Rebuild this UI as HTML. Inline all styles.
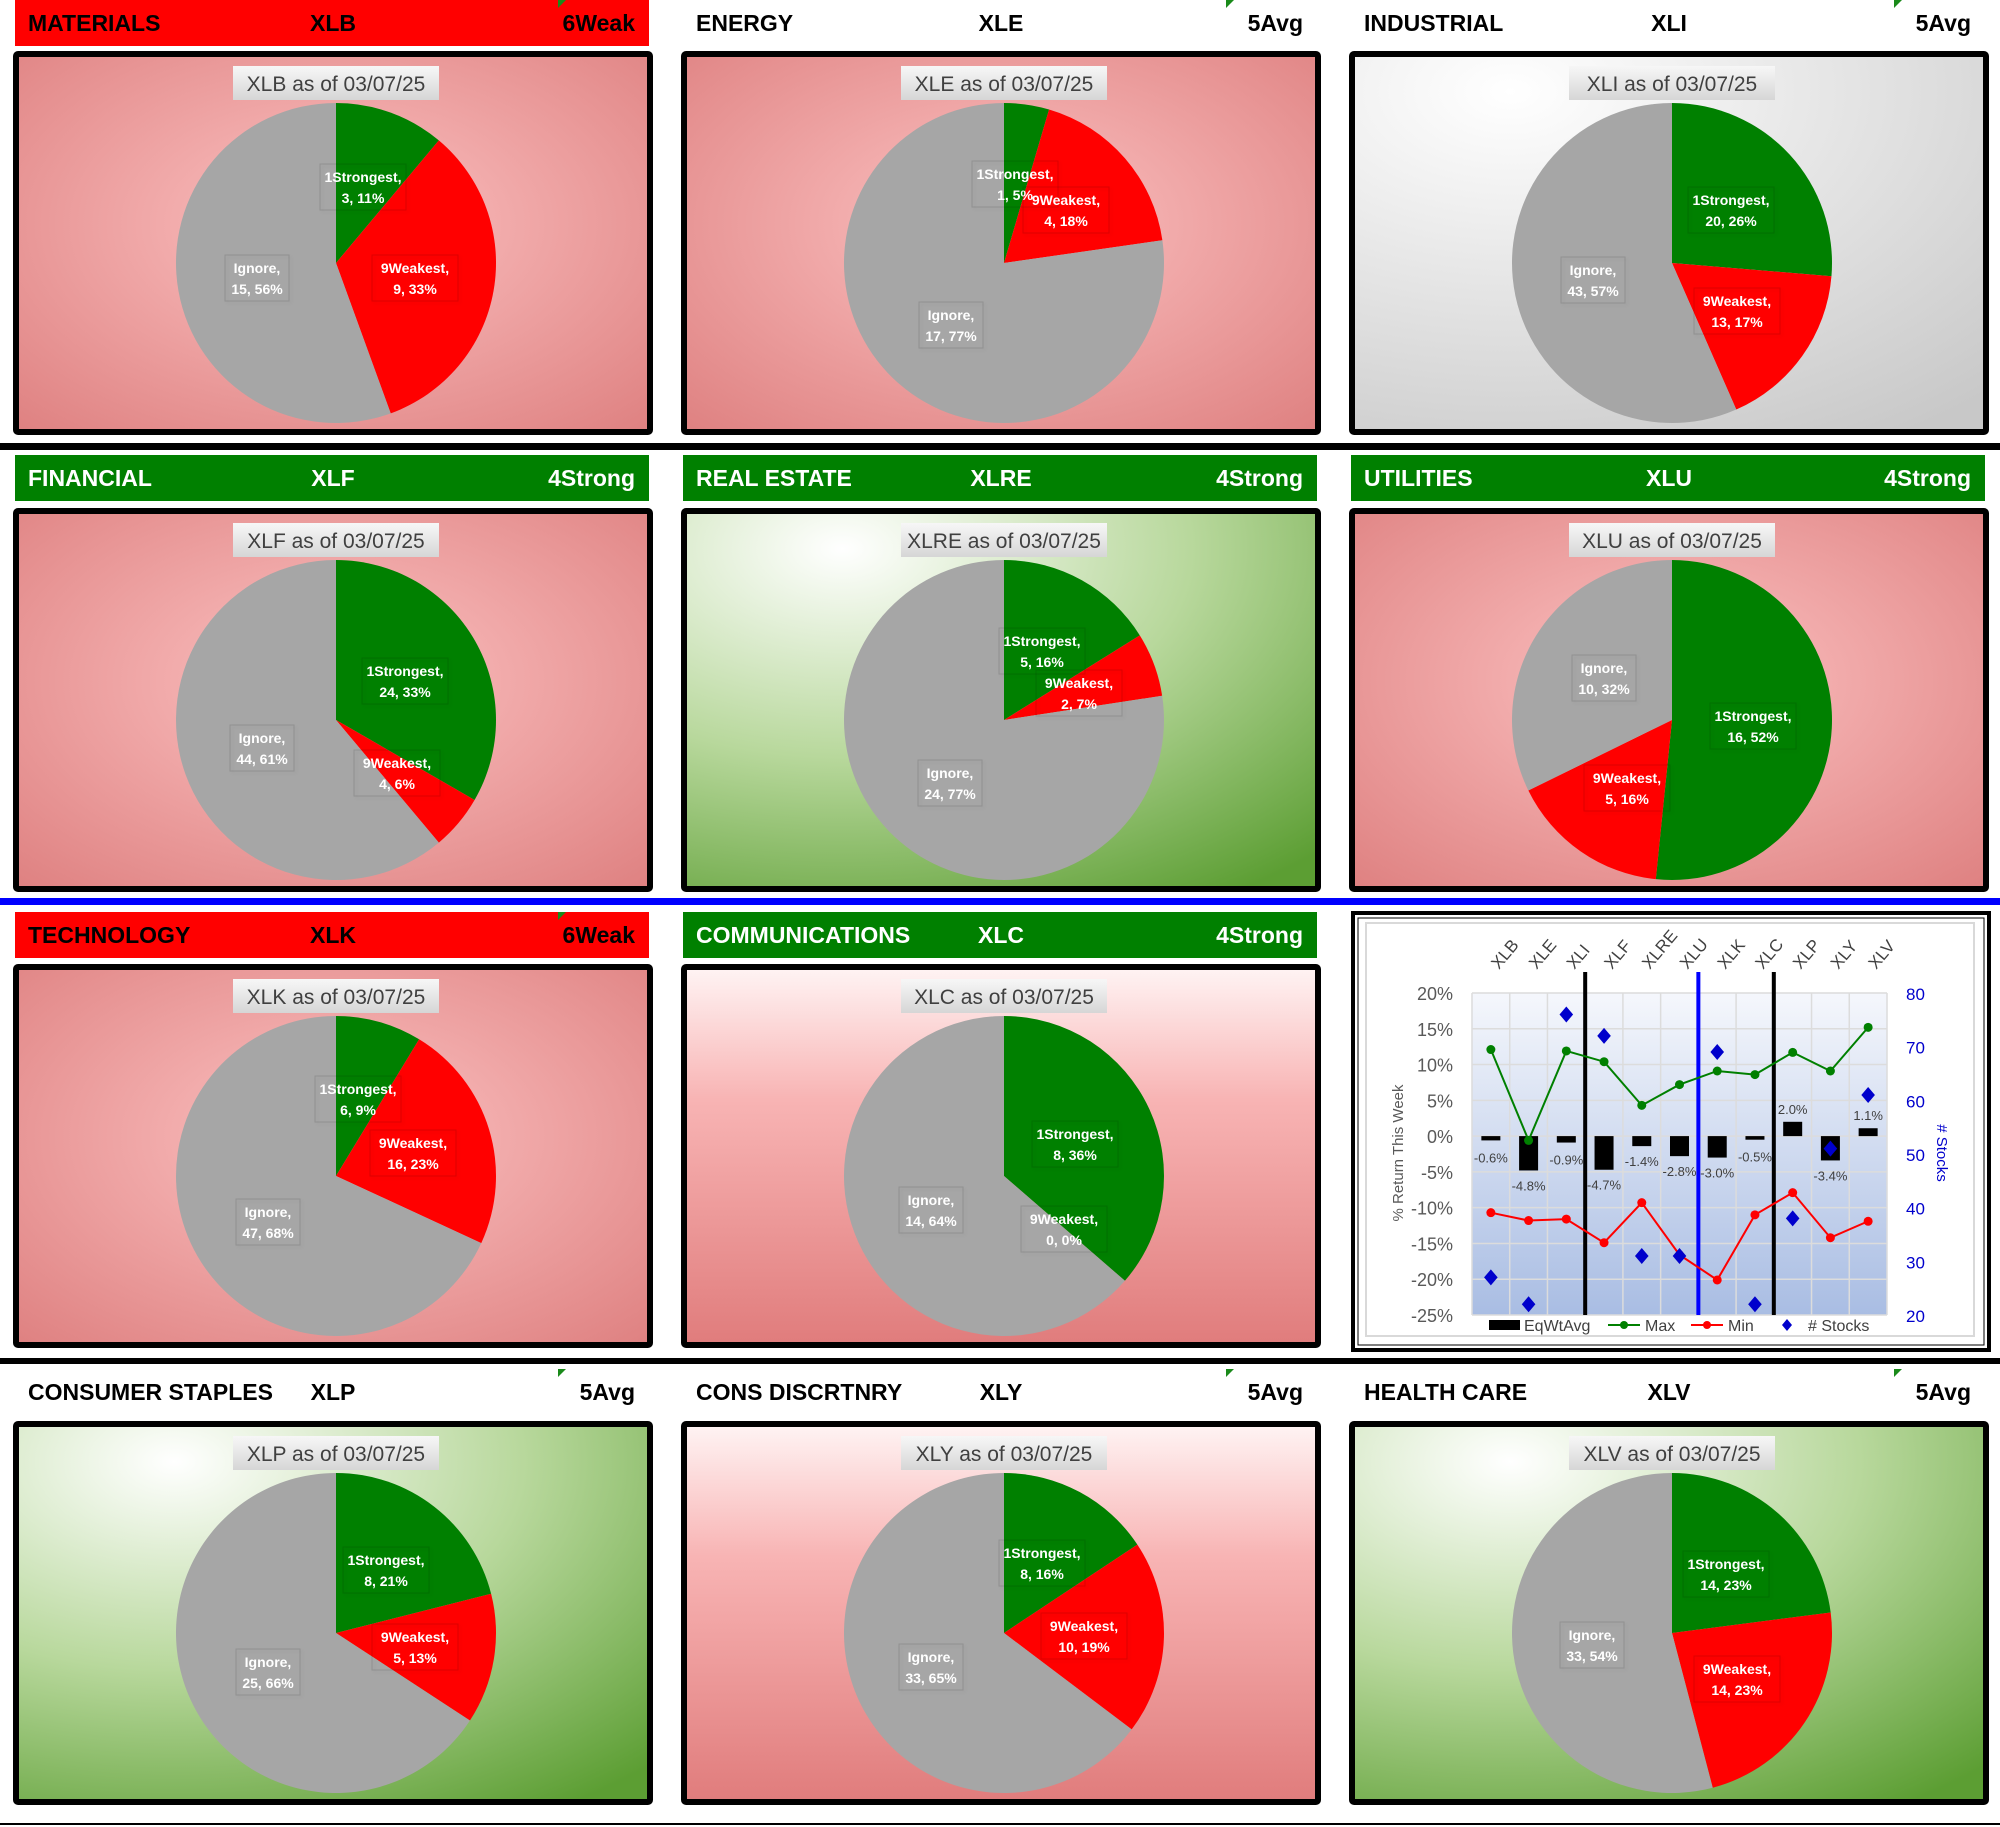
<!DOCTYPE html>
<html><head><meta charset="utf-8">
<style>
html,body{margin:0;padding:0;background:#fff;}
svg{display:block;font-family:"Liberation Sans",sans-serif;}
</style></head>
<body>
<svg id="root" xmlns="http://www.w3.org/2000/svg" width="2000" height="1827" viewBox="0 0 2000 1827">
<defs>
<radialGradient id="gRed" cx="50%" cy="45%" r="75%"><stop offset="0" stop-color="#fcc2c2"/><stop offset="1" stop-color="#de8080"/></radialGradient>
<radialGradient id="gGreen" cx="25%" cy="10%" r="110%"><stop offset="0" stop-color="#ffffff"/><stop offset="0.5" stop-color="#b8d89c"/><stop offset="1" stop-color="#5c9e33"/></radialGradient>
<radialGradient id="gGray" cx="25%" cy="10%" r="110%"><stop offset="0" stop-color="#ffffff"/><stop offset="1" stop-color="#c8c8c8"/></radialGradient>
<linearGradient id="gRedV" x1="0" y1="0" x2="0" y2="1"><stop offset="0" stop-color="#fff4f4"/><stop offset="0.35" stop-color="#f8b4b4"/><stop offset="1" stop-color="#e07c7c"/></linearGradient>
<linearGradient id="gTitle" x1="0" y1="0" x2="0" y2="1"><stop offset="0" stop-color="#f7f7f7"/><stop offset="1" stop-color="#d6d6d6"/></linearGradient>
<linearGradient id="gPlot" x1="0" y1="0" x2="0" y2="1"><stop offset="0" stop-color="#f5f7fc"/><stop offset="1" stop-color="#a9bde3"/></linearGradient>
<filter id="sh" x="-20%" y="-20%" width="140%" height="140%"><feDropShadow dx="2" dy="2" stdDeviation="1.5" flood-color="#000" flood-opacity="0.45"/></filter>
</defs>
<g id="panels"></g>
<g id="combo"></g>
</svg>
<script>
// ---------- Pie panel data ----------
const sectorNames = ["MATERIALS","ENERGY","INDUSTRIAL","FINANCIAL","REAL ESTATE","UTILITIES","TECHNOLOGY","COMMUNICATIONS","CONSUMER STAPLES","CONS DISCRTNRY","HEALTH CARE"];
const tickers = ["XLB","XLE","XLI","XLF","XLRE","XLU","XLK","XLC","XLP","XLY","XLV"];
const statuses = ["6Weak","5Avg","5Avg","4Strong","4Strong","4Strong","6Weak","4Strong","5Avg","5Avg","5Avg"];
const strongestCounts = [3,1,20,24,5,16,6,8,8,8,14];
const weakestCounts = [9,4,13,4,2,5,16,0,5,10,14];
const ignoreCounts = [15,17,43,44,24,10,47,14,25,33,33];
const strongestPct = ["11%","5%","26%","33%","16%","52%","9%","36%","21%","16%","23%"];
const weakestPct = ["33%","18%","17%","6%","7%","16%","23%","0%","13%","19%","23%"];
const ignorePct = ["56%","77%","57%","61%","77%","32%","68%","64%","66%","65%","54%"];
const asOfDate = "03/07/25";

const NS="http://www.w3.org/2000/svg";
function mk(tag,attrs,parent){const e=document.createElementNS(NS,tag);for(const k in attrs)e.setAttribute(k,attrs[k]);if(parent)parent.appendChild(e);return e;}

const root=document.getElementById('panels');
const colX=[13,681,1349], rowY=[51,508,964,1421], hdrY=[0,455,912,1369];
const PW=640, PH=384;
const bgs=["gRed","gRed","gGray","gRed","gGreen","gRed","gRed","gRedV","gGreen","gRedV","gGreen"];
// label offsets relative to pie center (px) — layout only
const lblOff=[
 [[27,-77],[79,14],[-79,14]],
 [[11,-80],[62,-54],[-53,61]],
 [[59,-54],[65,47],[-79,16]],
 [[69,-40],[61,52],[-74,27]],
 [[38,-70],[75,-28],[-54,62]],
 [[81,5],[-45,67],[-68,-43]],
 [[22,-78],[77,-24],[-68,45]],
 [[71,-33],[60,52],[-73,33]],
 [[50,-64],[79,13],[-68,38]],
 [[38,-71],[80,2],[-73,33]],
 [[54,-60],[65,45],[-80,11]]
];

for(let i=0;i<11;i++){
  const c = i<9 ? (i%3) : (i-9);
  const r = i<6 ? Math.floor(i/3) : (i<8 ? 2 : 3);
  let col=c,row=r;
  if(i===6){col=0;row=2;} if(i===7){col=1;row=2;}
  if(i>=8){col=i-8;row=3;}
  const x0=colX[col], y0=rowY[row];
  const g=mk('g',{},root);
  
  
  // header
  let hfill = statuses[i]==="6Weak" ? "#ff0000" : (statuses[i]==="4Strong" ? "#008000" : "#ffffff");
  const hdr=mk('rect',{x:x0+2,y:hdrY[row],width:PW-6,height:46,fill:hfill},g);
  
  
  const tc = statuses[i]==="4Strong" ? "#ffffff" : "#000000";
  const t1=mk('text',{x:x0+15,y:hdrY[row]+31,'font-size':23,'font-weight':'bold',fill:tc},g); t1.textContent=sectorNames[i];
   
  const t2=mk('text',{x:x0+PW/2,y:hdrY[row]+31,'font-size':23,'font-weight':'bold',fill:tc,'text-anchor':'middle'},g); t2.textContent=tickers[i];
   
  const t3=mk('text',{x:x0+PW-18,y:hdrY[row]+31,'font-size':23,'font-weight':'bold',fill:tc,'text-anchor':'end'},g); t3.textContent=statuses[i];
   
  if(statuses[i]!=="4Strong"){ mk('polygon',{points:`${x0+545},${hdrY[row]} ${x0+553},${hdrY[row]} ${x0+545},${hdrY[row]+8}`,fill:"#1a8a1a"},g); }
  // panel box
  const box=mk('rect',{x:x0+3,y:y0+3,width:PW-6,height:PH-6,fill:`url(#${bgs[i]})`,stroke:"#000","stroke-width":6,rx:2},g);
   
  // title
  const tw=206, tx=x0+PW/2-tw/2+3;
  mk('rect',{x:tx,y:y0+15,width:tw,height:34,fill:"url(#gTitle)"},g);
  const tt=mk('text',{x:tx+tw/2,y:y0+40,'font-size':21,fill:"#404040",'text-anchor':'middle'},g);
  tt.textContent=tickers[i]+" as of "+asOfDate;
   
  // pie
  const cx=x0+323, cy=y0+212, R=160;
  const vals=[strongestCounts[i],weakestCounts[i],ignoreCounts[i]];
  const tot=vals[0]+vals[1]+vals[2];
  const cols=["#008000","#ff0000","#a6a6a6"], sn=["slice-strongest","slice-weakest","slice-ignore"];
  let a=0;
  for(let s=0;s<3;s++){
    const v=vals[s]; if(v<=0) continue;
    const a2=a+v/tot*2*Math.PI;
    const p1=[cx+R*Math.sin(a),cy-R*Math.cos(a)], p2=[cx+R*Math.sin(a2),cy-R*Math.cos(a2)];
    const large=(a2-a)>Math.PI?1:0;
    let d;
    if(v===tot) d=`M${cx},${cy-R} A${R},${R} 0 1 1 ${cx-0.01},${cy-R} Z`;
    else d=`M${cx},${cy} L${p1[0]},${p1[1]} A${R},${R} 0 ${large} 1 ${p2[0]},${p2[1]} Z`;
    const sl=mk('path',{d:d,fill:cols[s]},g);
     
    a=a2;
  }
  // labels
  const lbl=[["1Strongest,",strongestCounts[i]+", "+strongestPct[i]],["9Weakest,",weakestCounts[i]+", "+weakestPct[i]],["Ignore,",ignoreCounts[i]+", "+ignorePct[i]]];
  for(let s=0;s<3;s++){
    const lx=cx+lblOff[i][s][0], ly=cy+lblOff[i][s][1];
    const w = s===2?64:86;
    mk('rect',{x:lx-w/2,y:ly-22,width:w,height:46,fill:"none",stroke:"rgba(0,0,0,0.12)","stroke-width":1,filter:"url(#sh)"},g);
    const lt=mk('text',{x:lx,y:ly-4,'font-size':14,'font-weight':'bold',fill:"#fff",'text-anchor':'middle'},g);
    lt.textContent=lbl[s][0];
     
    const lt2=mk('text',{x:lx,y:ly+17,'font-size':14,'font-weight':'bold',fill:"#fff",'text-anchor':'middle'},g);
    lt2.textContent=lbl[s][1];
     
  }
}
// separators
const sep1=mk('rect',{x:0,y:443,width:2000,height:7,fill:"#000"},root);  
const sep2=mk('rect',{x:0,y:898,width:2000,height:7,fill:"#0000ff"},root);  
const sep3=mk('rect',{x:0,y:1358,width:2000,height:6,fill:"#000"},root);  
const sep4=mk('rect',{x:0,y:1823,width:2000,height:2,fill:"#000"},root);  
</script>
<script>
// ---------- Combo chart data ----------
const categories = ["XLB","XLE","XLI","XLF","XLRE","XLU","XLK","XLC","XLP","XLY","XLV"];
const eqWtAvg = [-0.6,-4.8,-0.9,-4.7,-1.4,-2.8,-3.0,-0.5,2.0,-3.4,1.1];
const maxVals = [12.1,-0.6,11.9,10.4,4.3,7.2,9.1,8.6,11.7,9.1,15.2];
const minVals = [-10.7,-11.8,-11.6,-14.9,-9.3,-16.6,-20.1,-11.0,-7.9,-14.2,-11.9];
const stockCounts = [27,22,76,72,31,31,69,22,38,51,61];
const leftTicks = [20,15,10,5,0,-5,-10,-15,-20,-25];
const rightTicks = [80,70,60,50,40,30,20];
const dividerAfter = [2,5,7];

const cg=document.getElementById('combo');
function mk2(tag,attrs,parent){const e=document.createElementNS("http://www.w3.org/2000/svg",tag);for(const k in attrs)e.setAttribute(k,attrs[k]);parent.appendChild(e);return e;}
const PL=1472, PR=1887, PT=993, PB=1315;
const yL=v=>PT+(20-v)/45*(PB-PT);
const yR=v=>PT+(80-v)/60*(PB-PT);
const cw=(PR-PL)/categories.length;
const xC=i=>PL+cw*(i+0.5);

const outer=mk2('rect',{x:1353,y:913,width:636,height:437,fill:"#fff",stroke:"#000","stroke-width":4},cg);
 
mk2('rect',{x:1358,y:918,width:626,height:427,fill:"none",stroke:"#000","stroke-width":1},cg);
mk2('rect',{x:1366,y:923,width:608,height:413,fill:"#fff",stroke:"#d9d9d9","stroke-width":2},cg);
const plot=mk2('rect',{x:PL,y:PT,width:PR-PL,height:PB-PT,fill:"url(#gPlot)"},cg);
 
// gridlines + left ticks
leftTicks.forEach(v=>{
  mk2('line',{x1:PL,x2:PR,y1:yL(v),y2:yL(v),stroke:"#dcdcdc","stroke-width":1.5},cg);
  const t=mk2('text',{x:1453,y:yL(v)+7,'font-size':18,fill:"#595959",'text-anchor':'end'},cg);
  t.textContent=v+"%";
   
});
for(let i=0;i<=categories.length;i++){ mk2('line',{x1:PL+cw*i,x2:PL+cw*i,y1:PT,y2:PB,stroke:"#dcdcdc","stroke-width":1.5},cg); }
rightTicks.forEach(v=>{
  const t=mk2('text',{x:1906,y:yR(v)+7,'font-size':17,fill:"#0000cc"},cg);
  t.textContent=v;
   
});
categories.forEach((c,i)=>{
  const t=mk2('text',{x:xC(i)+8,y:970,'font-size':17,fill:"#404040",transform:`rotate(-50 ${xC(i)+8} 970)`},cg);
  t.textContent=c;
   
});
// bars
eqWtAvg.forEach((v,i)=>{
  const y0=yL(0), y1=yL(v);
  const b=mk2('rect',{x:xC(i)-9.5,y:Math.min(y0,y1),width:19,height:Math.max(3,Math.abs(y1-y0)),fill:"#000"},cg);
   
  const ly = v<0 ? y1+ (Math.abs(y1-y0)<8?22:20) : y1-8;
  const t=mk2('text',{x:xC(i),y:ly,'font-size':13,fill:"#404040",'text-anchor':'middle'},cg);
  t.textContent=v.toFixed(1)+"%";
   
});
// dividers
dividerAfter.forEach((k,j)=>{
  const x=PL+cw*(k+1);
  const l=mk2('line',{x1:x,x2:x,y1:972,y2:PB,stroke:j===1?"#0000ff":"#000","stroke-width":4},cg);
   
});
// lines
function series(vals,color,name){
  const pl=mk2('polyline',{points:vals.map((v,i)=>xC(i)+","+yL(v)).join(" "),fill:"none",stroke:color,"stroke-width":2},cg);
   
  vals.forEach((v,i)=>{
    const c=mk2('circle',{cx:xC(i),cy:yL(v),r:4.5,fill:color},cg);
     
  });
}
series(maxVals,"#008000","max");
series(minVals,"#ff0000","min");
stockCounts.forEach((v,i)=>{
  const x=xC(i), y=yR(v), s=8;
  const d=mk2('polygon',{points:`${x},${y-s} ${x+s*0.85},${y} ${x},${y+s} ${x-s*0.85},${y}`,fill:"#0000cc"},cg);
   
});
// axis titles
const at=mk2('text',{x:1403,y:1153,'font-size':15,fill:"#595959",'text-anchor':'middle',transform:"rotate(-90 1403 1153)"},cg);
at.textContent="% Return This Week";
 
const at2=mk2('text',{x:1937,y:1153,'font-size':15,fill:"#0000cc",'text-anchor':'middle',transform:"rotate(90 1937 1153)"},cg);
at2.textContent="# Stocks";
 
// legend
const lg=mk2('g',{},cg);
 
mk2('rect',{x:1489,y:1320,width:31,height:10,fill:"#000"},lg);
const l1=mk2('text',{x:1524,y:1331,'font-size':16,fill:"#404040"},lg); l1.textContent="EqWtAvg";
 
mk2('line',{x1:1608,x2:1640,y1:1325,y2:1325,stroke:"#008000","stroke-width":2},lg);
mk2('circle',{cx:1624,cy:1325,r:4,fill:"#008000"},lg);
const l2=mk2('text',{x:1645,y:1331,'font-size':16,fill:"#404040"},lg); l2.textContent="Max";
 
mk2('line',{x1:1691,x2:1723,y1:1325,y2:1325,stroke:"#ff0000","stroke-width":2},lg);
mk2('circle',{cx:1707,cy:1325,r:4,fill:"#ff0000"},lg);
const l3=mk2('text',{x:1728,y:1331,'font-size':16,fill:"#404040"},lg); l3.textContent="Min";
 
mk2('polygon',{points:"1787,1319 1792,1325 1787,1331 1782,1325",fill:"#0000cc"},lg);
const l4=mk2('text',{x:1808,y:1331,'font-size':16,fill:"#404040"},lg); l4.textContent="# Stocks";
 
</script>
</body></html>
